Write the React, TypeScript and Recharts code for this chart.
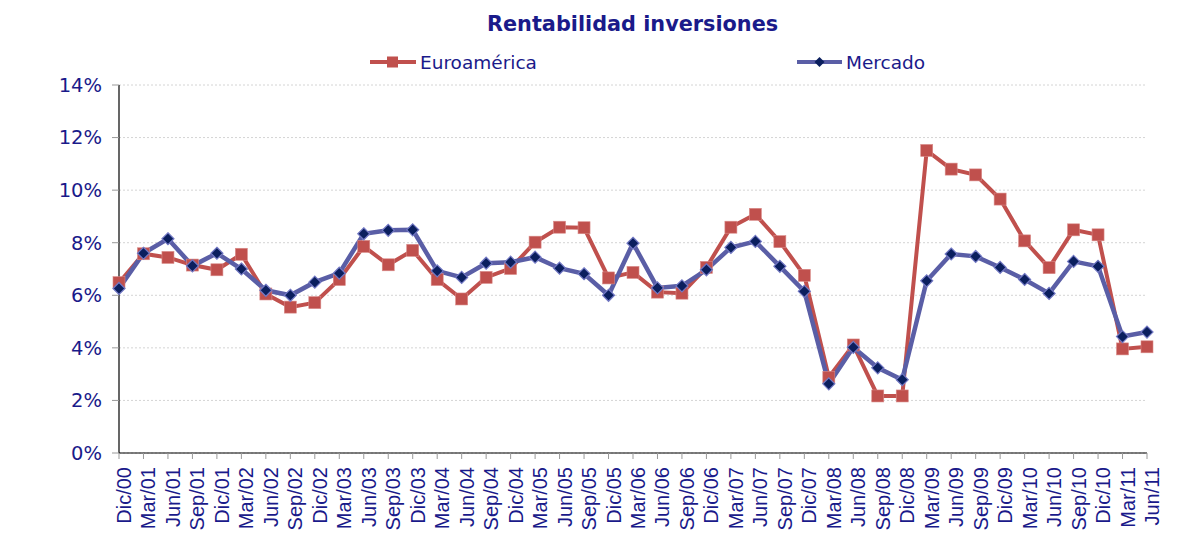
import { LineChart, Line, XAxis, YAxis, CartesianGrid } from 'recharts';

const categories = [
  'Dic/00', 'Mar/01', 'Jun/01', 'Sep/01', 'Dic/01', 'Mar/02', 'Jun/02', 'Sep/02', 'Dic/02',
  'Mar/03', 'Jun/03', 'Sep/03', 'Dic/03', 'Mar/04', 'Jun/04', 'Sep/04', 'Dic/04',
  'Mar/05', 'Jun/05', 'Sep/05', 'Dic/05', 'Mar/06', 'Jun/06', 'Sep/06', 'Dic/06',
  'Mar/07', 'Jun/07', 'Sep/07', 'Dic/07', 'Mar/08', 'Jun/08', 'Sep/08', 'Dic/08',
  'Mar/09', 'Jun/09', 'Sep/09', 'Dic/09', 'Mar/10', 'Jun/10', 'Sep/10', 'Dic/10',
  'Mar/11', 'Jun/11',
];

const euroamerica = [
  6.48, 7.58, 7.44, 7.15, 6.97, 7.56, 6.05, 5.55, 5.72,
  6.6, 7.86, 7.16, 7.71, 6.6, 5.86, 6.68, 7.02,
  8.02, 8.59, 8.57, 6.66, 6.87, 6.12, 6.08, 7.06,
  8.59, 9.08, 8.04, 6.76, 2.88, 4.11, 2.17, 2.17,
  11.51, 10.8, 10.58, 9.66, 8.07, 7.05, 8.49, 8.3,
  3.96, 4.04,
];

const mercado = [
  6.26, 7.6, 8.15, 7.12, 7.6, 7.0, 6.19, 6.0, 6.5,
  6.84, 8.34, 8.47, 8.49, 6.93, 6.68, 7.22, 7.26,
  7.45, 7.03, 6.82, 6.0, 7.98, 6.28, 6.36, 6.97,
  7.82, 8.05, 7.1, 6.15, 2.63, 4.02, 3.24, 2.79,
  6.55, 7.57, 7.48, 7.06, 6.6, 6.07, 7.29, 7.1,
  4.43, 4.6,
];

const yTicks = [0, 2, 4, 6, 8, 10, 12, 14];

const data = categories.map((periodo, i) => ({
  periodo,
  euroamerica: euroamerica[i],
  mercado: mercado[i],
}));

const TEXT = '#1a1a8a';
const RED = '#c0504d';
const BLUE = '#5a5ea6';
const NAVY = '#0b1f5e';

const SquareDot = (props: any) => {
  const { cx, cy, index } = props;
  return <rect key={`sq-${index}`} x={cx - 6} y={cy - 6} width={12} height={12} fill={RED} stroke="#d98a88" strokeWidth={0.6} />;
};

const DiamondDot = (props: any) => {
  const { cx, cy, index } = props;
  return (
    <path
      key={`dm-${index}`}
      d={`M${cx},${cy - 6}L${cx + 6},${cy}L${cx},${cy + 6}L${cx - 6},${cy}Z`}
      fill={NAVY}
      stroke="#7278c4"
      strokeWidth={1.2}
    />
  );
};

// rotated category labels, reading bottom-to-top
const XTick = (props: any) => {
  const { x, y, payload } = props;
  const ax = x + 12;
  const ay = y + 8;
  return (
    <text
      x={ax}
      y={ay}
      transform={`rotate(-90 ${ax} ${ay})`}
      textAnchor="end"
      fill={TEXT}
      fontSize={20}
      fontFamily="Liberation Sans, Arial, sans-serif"
    >
      {payload.value}
    </text>
  );
};

export default function App() {
  return (
    <div style={{ position: 'absolute', left: 0, top: 0, width: 1198, height: 558, background: '#fff', fontFamily: 'DejaVu Sans, Verdana, sans-serif' }}>
      <div style={{ position: 'absolute', left: 487, top: 12, fontSize: 20.8, fontWeight: 'bold', color: TEXT, whiteSpace: 'nowrap' }}>
        Rentabilidad inversiones
      </div>

      <div style={{ position: 'absolute', left: 370, top: 50, display: 'flex', alignItems: 'center', color: TEXT, fontSize: 18.5 }}>
        <svg width={46} height={24}>
          <line x1={0} y1={12} x2={46} y2={12} stroke={RED} strokeWidth={4} />
          <rect x={17} y={6.5} width={11} height={11} fill={RED} />
        </svg>
        <span style={{ marginLeft: 4 }}>Euroamérica</span>
      </div>
      <div style={{ position: 'absolute', left: 797, top: 50, display: 'flex', alignItems: 'center', color: TEXT, fontSize: 18.5 }}>
        <svg width={45} height={24}>
          <line x1={0} y1={12} x2={45} y2={12} stroke={BLUE} strokeWidth={4} />
          <path d="M22.5,7L27.5,12L22.5,17L17.5,12Z" fill={NAVY} />
        </svg>
        <span style={{ marginLeft: 4 }}>Mercado</span>
      </div>

      <LineChart width={1198} height={558} data={data} margin={{ top: 85, right: 51, bottom: 5, left: 0 }}>
        <CartesianGrid horizontal vertical={false} stroke="#d4d4d4" strokeDasharray="2 2" />
        <XAxis
          dataKey="periodo"
          interval={0}
          height={100}
          tickSize={6}
          tickMargin={0}
          axisLine={{ stroke: '#000', strokeWidth: 1.2 }}
          tickLine={{ stroke: '#999' }}
          tick={<XTick />}
        />
        <YAxis
          domain={[0, 14]}
          ticks={yTicks}
          width={119}
          tickSize={7}
          tickMargin={10}
          tickFormatter={(v: number) => `${v}%`}
          axisLine={{ stroke: '#000', strokeWidth: 1.2 }}
          tickLine={{ stroke: '#999' }}
          tick={{ fill: TEXT, fontSize: 19.5, fontFamily: 'DejaVu Sans, Verdana, sans-serif' }}
        />
        <Line
          type="linear"
          dataKey="euroamerica"
          stroke={RED}
          strokeWidth={4}
          dot={SquareDot}
          activeDot={false}
          isAnimationActive={false}
        />
        <Line
          type="linear"
          dataKey="mercado"
          stroke={BLUE}
          strokeWidth={4.5}
          dot={DiamondDot}
          activeDot={false}
          isAnimationActive={false}
        />
      </LineChart>
    </div>
  );
}
